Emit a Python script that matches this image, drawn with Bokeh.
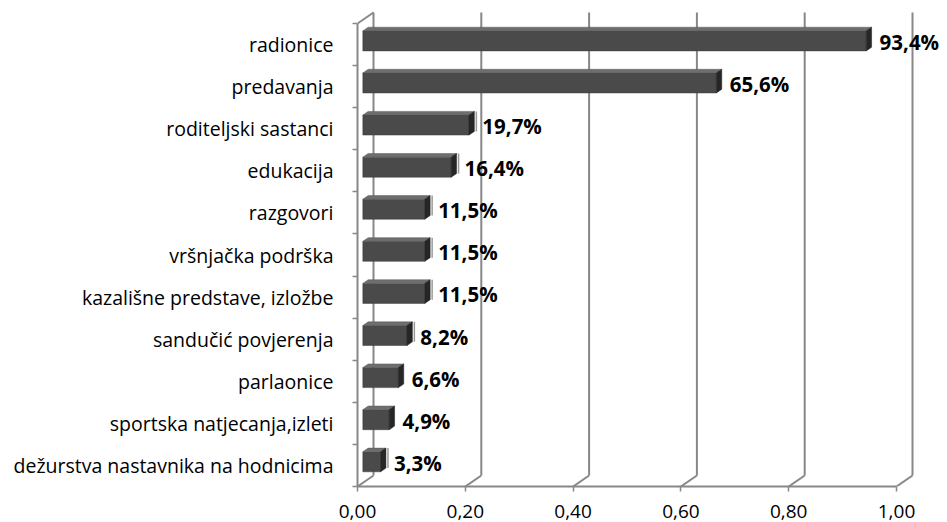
import numpy as np
from bokeh.plotting import figure
from bokeh.models import ColumnDataSource, FixedTicker, Range1d
from bokeh.embed import file_html
from bokeh.resources import INLINE
from bokeh.core.properties import value

# ---------------- data ----------------
categories = [
    "radionice",
    "predavanja",
    "roditeljski sastanci",
    "edukacija",
    "razgovori",
    "vršnjačka podrška",
    "kazališne predstave, izložbe",
    "sandučić povjerenja",
    "parlaonice",
    "sportska natjecanja,izleti",
    "dežurstva nastavnika na hodnicima",
]
shares = [0.934, 0.656, 0.197, 0.164, 0.115, 0.115, 0.115, 0.082, 0.066, 0.049, 0.033]
value_labels = ["93,4%", "65,6%", "19,7%", "16,4%", "11,5%", "11,5%", "11,5%",
                "8,2%", "6,6%", "4,9%", "3,3%"]
label_marks = [False, False, True, True, True, True, True, True, False, False, True]
x_ticks = [0.0, 0.2, 0.4, 0.6, 0.8, 1.0]
x_tick_labels = ["0,00", "0,20", "0,40", "0,60", "0,80", "1,00"]

# ---------------- layout constants ----------------
W, H = 947, 522
LEFT = 357            # frame left in canvas px (value 0)
PX_X = 539.0          # px per unit along x
BOTTOM_BORDER = 36
FB = H - BOTTOM_BORDER  # frame bottom (canvas px) = floor
TOP_SLOT = 23.0       # canvas y of top of category area
n = len(categories)
slot_px = (FB - TOP_SLOT) / n
x_end = (W - LEFT) / PX_X
y_end = FB / slot_px

DX = 16.0 / PX_X      # depth offset (x)
DY = 11.0 / slot_px   # depth offset (y)
GRID = "#878787"

p = figure(width=W, height=H, x_range=Range1d(0, x_end), y_range=Range1d(0, y_end),
           output_backend="svg", toolbar_location=None,
           min_border_left=LEFT, min_border_right=0, min_border_top=0,
           min_border_bottom=BOTTOM_BORDER)
p.outline_line_color = None
p.grid.visible = False
p.background_fill_color = "white"

v = np.array(shares)
yc = np.arange(n)[::-1] + 0.5

# ---------------- walls / grid ----------------
gx = np.array(x_ticks)
p.segment(x0=gx + DX, y0=DY, x1=gx + DX, y1=n + DY, line_color=GRID, line_width=2)
p.segment(x0=gx, y0=0, x1=gx + DX, y1=DY, line_color=GRID, line_width=2)
p.segment(x0=[0], y0=[n], x1=[DX], y1=[n + DY], line_color=GRID, line_width=2)

# ---------------- bars ----------------
h = 0.475
fx0 = np.full(n, DX / 3)
fx1 = v + DX / 3
fy0 = yc - h / 2 + DY / 3
fy1 = yc + h / 2 + DY / 3

p.quad(left=fx0, right=fx1, bottom=fy0, top=fy1, fill_color="#4a4a4a", line_color="#3c3c3c", line_width=0.5)
top_xs = [[a, b, b + DX / 3, a + DX / 3] for a, b in zip(fx0, fx1)]
top_ys = [[t, t, t + DY / 3, t + DY / 3] for t in fy1]
p.patches(top_xs, top_ys, fill_color="#6e6e6e", line_color="#5a5a5a", line_width=0.5)
end_xs = [[b, b + DX / 3, b + DX / 3, b] for b in fx1]
end_ys = [[lo, lo + DY / 3, hi + DY / 3, hi] for lo, hi in zip(fy0, fy1)]
p.patches(end_xs, end_ys, fill_color="#262626", line_color="#1e1e1e", line_width=0.5)

# small marks before labels
mk = np.array(label_marks)
mx = fx1[mk] + DX / 3 + 2.0 / PX_X
p.segment(x0=mx, y0=fy0[mk] + DY / 3, x1=mx, y1=fy1[mk] + DY / 3, line_color="#9a9a9a", line_width=1.5)

# value labels
src = ColumnDataSource(dict(x=fx1 + DX / 3, y=yc + DY / 3, t=value_labels))
p.text(x="x", y="y", text="t", source=src, x_offset=8, y_offset=1, text_baseline="middle",
       text_font=value("Open Sans"), text_font_style="bold", text_font_size="20.5px",
       text_color="#000000")

# ---------------- axes ----------------
xa = p.xaxis[0]
xa.ticker = FixedTicker(ticks=x_ticks)
xa.major_label_overrides = {t: l for t, l in zip(x_ticks, x_tick_labels)}
xa.bounds = (0, 1)
xa.axis_line_color = GRID
xa.axis_line_width = 2
xa.major_tick_line_color = GRID
xa.major_tick_line_width = 1.5
xa.major_tick_out = 5
xa.major_tick_in = 0
xa.minor_tick_line_color = None
xa.major_label_standoff = 13
xa.major_label_text_font = "Open Sans"
xa.major_label_text_font_size = "19px"
xa.major_label_text_color = "#000000"

ya = p.yaxis[0]
ya.ticker = FixedTicker(ticks=list(yc), minor_ticks=list(range(n + 1)))
ya.major_label_overrides = {float(c): name for c, name in zip(yc, categories)}
ya.bounds = (0, n)
ya.axis_line_color = GRID
ya.axis_line_width = 2
ya.major_tick_line_color = None
ya.major_tick_out = 0
ya.major_tick_in = 0
ya.minor_tick_line_color = GRID
ya.minor_tick_line_width = 1.5
ya.minor_tick_out = 5
ya.minor_tick_in = 0
ya.major_label_standoff = 19
ya.major_label_text_font = "Open Sans"
ya.major_label_text_font_size = "19.5px"
ya.major_label_text_color = "#000000"

open("out.html", "w").write(file_html(p, INLINE))
